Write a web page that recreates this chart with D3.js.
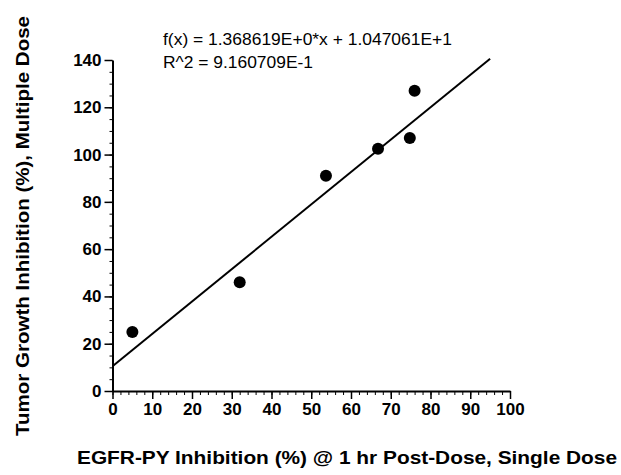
<!DOCTYPE html>
<html lang="en">
  <head>
    <meta charset="UTF-8" />
    <title>EGFR-PY vs Tumor Growth Inhibition</title>
    <script src="https://cdn.jsdelivr.net/npm/d3@7"></script>
    <style>
      body {
        margin: 0;
        background: #ffffff;
        font-family: "Liberation Sans", Arial, Helvetica, sans-serif;
      }
      .axis path,
      .axis line {
        stroke: #000;
      }
    </style>
  </head>
  <body>
    <div id="chart"></div>

    <script>
      // Data
      const egfrInhibition = [5, 32, 53.7, 66.8, 74.8, 76];
      const tumorInhibition = [25, 46, 91, 102.5, 107, 127];

      // Linear fit reported on the chart
      const fitSlope = 1.368619;
      const fitIntercept = 10.47061;
      const fitRange = [0, 95];
      const fitLabels = ["f(x) = 1.368619E+0*x + 1.047061E+1", "R^2 = 9.160709E-1"];

      const xTickValues = d3.range(0, 101, 10);
      const xMinorValues = d3.range(0, 101, 2);
      const yTickValues = d3.range(0, 141, 20);
      const yMinorValues = d3.range(0, 141, 5);

      const xTitle = "EGFR-PY Inhibition (%) @ 1 hr Post-Dose, Single Dose";
      const yTitle = "Tumor Growth Inhibition (%), Multiple Dose";

      const W = 621,
        H = 475;

      const svg = d3
        .select("#chart")
        .append("svg")
        .attr("width", W)
        .attr("height", H);

      const x = d3.scaleLinear().domain([0, 100]).range([112.5, 510]);
      const y = d3.scaleLinear().domain([0, 140]).range([391, 60]);

      // minor ticks first
      svg
        .append("g")
        .attr("class", "axis")
        .attr("transform", `translate(0,${y(0)})`)
        .call(d3.axisBottom(x).tickValues(xMinorValues).tickSize(4).tickFormat(""))
        .call((g) => g.select(".domain").remove())
        .selectAll("line")
        .attr("stroke-width", 1);

      svg
        .append("g")
        .attr("class", "axis")
        .attr("transform", `translate(${x(0)},0)`)
        .call(d3.axisLeft(y).tickValues(yMinorValues).tickSize(3).tickFormat(""))
        .call((g) => g.select(".domain").remove())
        .selectAll("line")
        .attr("stroke-width", 1);

      // X axis
      const xAxis = svg
        .append("g")
        .attr("class", "axis")
        .attr("transform", `translate(0,${y(0)})`)
        .call(
          d3
            .axisBottom(x)
            .tickValues(xTickValues)
            .tickSizeInner(8)
            .tickSizeOuter(0)
            .tickPadding(4)
        );
      xAxis.select(".domain").attr("stroke-width", 2);
      xAxis.selectAll(".tick line").attr("stroke-width", 1.5);
      xAxis
        .selectAll(".tick text")
        .attr("fill", "#000")
        .style("font-family", '"Liberation Sans", Arial, sans-serif')
        .style("font-size", "17px")
        .style("font-weight", "bold");

      // Y axis
      const yAxis = svg
        .append("g")
        .attr("class", "axis")
        .attr("transform", `translate(${x(0)},0)`)
        .call(
          d3
            .axisLeft(y)
            .tickValues(yTickValues)
            .tickSizeInner(8)
            .tickSizeOuter(0)
            .tickPadding(3)
        );
      yAxis.select(".domain").attr("stroke-width", 2);
      yAxis.selectAll(".tick line").attr("stroke-width", 1.5);
      yAxis
        .selectAll(".tick text")
        .attr("fill", "#000")
        .style("font-family", '"Liberation Sans", Arial, sans-serif')
        .style("font-size", "17px")
        .style("font-weight", "bold");

      // fit line
      svg
        .append("line")
        .attr("x1", x(fitRange[0]))
        .attr("y1", y(fitIntercept + fitSlope * fitRange[0]))
        .attr("x2", x(fitRange[1]))
        .attr("y2", y(fitIntercept + fitSlope * fitRange[1]))
        .attr("stroke", "#000")
        .attr("stroke-width", 2);

      // points
      svg
        .selectAll("circle.pt")
        .data(egfrInhibition)
        .enter()
        .append("circle")
        .attr("class", "pt")
        .attr("cx", (d) => x(d))
        .attr("cy", (d, i) => y(tumorInhibition[i]))
        .attr("r", 6)
        .attr("fill", "#000");

      // fit annotation
      svg
        .selectAll("text.fit")
        .data(fitLabels)
        .enter()
        .append("text")
        .attr("class", "fit")
        .attr("x", 163)
        .attr("y", (d, i) => 45 + i * 23)
        .attr("textLength", (d, i) => (i === 0 ? 289 : 150))
        .attr("lengthAdjust", "spacingAndGlyphs")
        .style("font-size", "16.5px")
        .text((d) => d);

      // axis titles
      svg
        .append("text")
        .attr("x", 347)
        .attr("y", 464)
        .attr("text-anchor", "middle")
        .attr("textLength", 540)
        .attr("lengthAdjust", "spacingAndGlyphs")
        .style("font-size", "18.5px")
        .style("font-weight", "bold")
        .text(xTitle);

      svg
        .append("text")
        .attr("transform", `translate(29,226) rotate(-90)`)
        .attr("text-anchor", "middle")
        .attr("textLength", 420)
        .attr("lengthAdjust", "spacingAndGlyphs")
        .style("font-size", "18.5px")
        .style("font-weight", "bold")
        .text(yTitle);
    </script>
  </body>
</html>
